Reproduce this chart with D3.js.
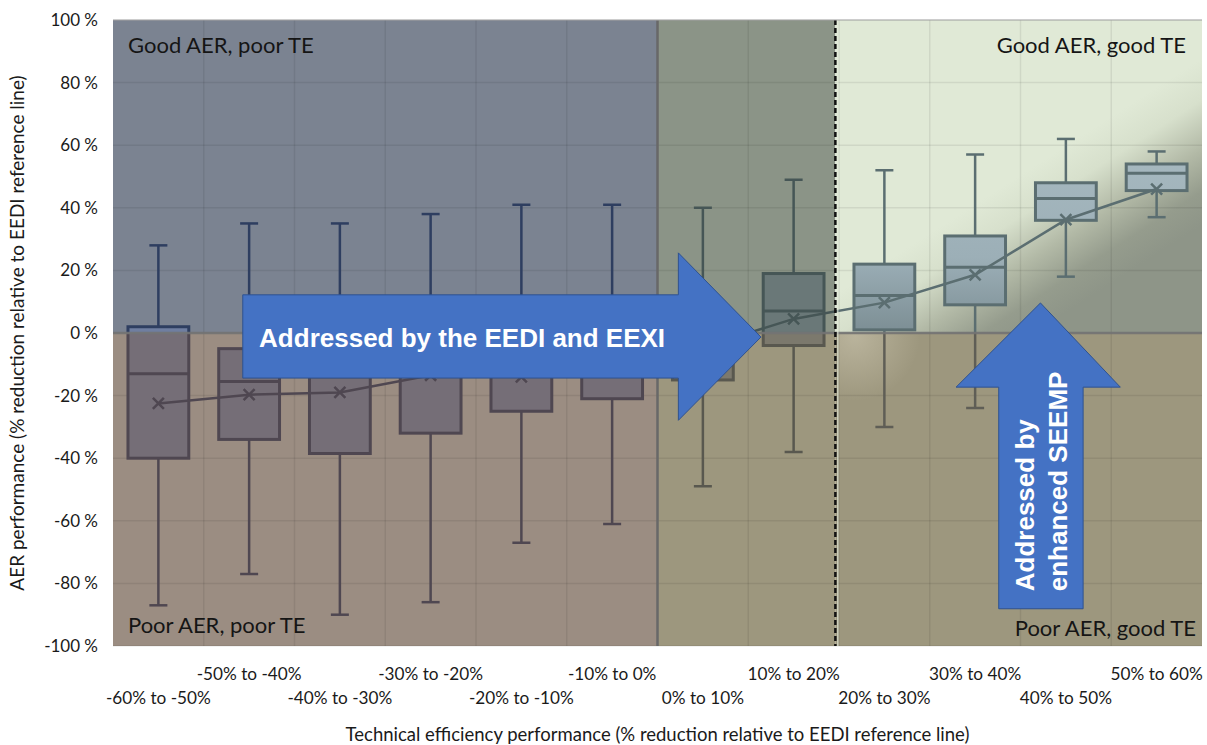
<!DOCTYPE html>
<html>
<head>
<meta charset="utf-8">
<script src="https://cdn.jsdelivr.net/npm/d3@7"></script>
<style>
  body { margin: 0; background: #ffffff; }
  svg { display: block; }
</style>
</head>
<body>
<svg id="chart" width="1207" height="745"></svg>
<script>
// Technical efficiency bins (% reduction relative to EEDI reference line)
const categories = ['-60% to -50%', '-50% to -40%', '-40% to -30%', '-30% to -20%',
  '-20% to -10%', '-10% to 0%', '0% to 10%', '10% to 20%', '20% to 30%',
  '30% to 40%', '40% to 50%', '50% to 60%'];

// AER performance distribution per bin (%)
const whiskerHigh = [28, 35, 35, 38, 41, 41, 40, 49, 52, 57, 62, 58];
const q3          = [2, -5, 4, 0, 2, 3, 5, 19, 22, 31, 48, 54];
const median      = [-13, -15.5, -14, -11, -12, -10, -3, 7, 12, 21, 43, 51];
const q1          = [-40, -34, -38.5, -32, -25, -21, -15, -4, 1, 9, 36, 45.5];
const whiskerLow  = [-87, -77, -90, -86, -67, -61, -49, -38, -30, -24, 18, 37];
const mean        = [-22.5, -19.7, -19, -13.5, -14, -10, -4.5, 4.5, 9.7, 18.6, 36.2, 46];

const yTicks = [100, 80, 60, 40, 20, 0, -20, -40, -60, -80, -100];

const svg = d3.select('#chart');
const plot = { left: 113, right: 1202, top: 20, bottom: 646 };

const x = d3.scaleBand().domain(categories).range([plot.left, plot.right]).padding(0);
const te = d3.scaleLinear().domain([-60, 60]).range([plot.left, plot.right]);
const y = d3.scaleLinear().domain([-100, 100]).range([plot.bottom, plot.top]);

const y0 = y(0);
const xZero = te(0);          // TE = 0 %
const xDash = te(19.6);       // required TE threshold (dashed)

const stats = categories.map((c, i) => ({
  cat: c, hi: whiskerHigh[i], q3: q3[i], med: median[i],
  q1: q1[i], lo: whiskerLow[i], mean: mean[i]
}));

const defs = svg.append('defs');

// background gradient of the "good AER, good TE" quadrant
const gg = defs.append('linearGradient').attr('id', 'greenGrad')
  .attr('gradientUnits', 'userSpaceOnUse')
  .attr('x1', 834).attr('y1', 295).attr('x2', 910).attr('y2', 413);
[[0, '#e0e9d6'], [0.25, '#d7e0cc'], [0.55, '#b2b9a6'], [0.8, '#959c8d'], [1, '#8e9588']]
  .forEach(([o, c]) => gg.append('stop').attr('offset', o).attr('stop-color', c));

const bg = defs.append('linearGradient').attr('id', 'boxGrad')
  .attr('gradientUnits', 'userSpaceOnUse')
  .attr('x1', 0).attr('y1', y(60)).attr('x2', 0).attr('y2', y(0));
[[0, '#a7b9c0'], [0.6, '#9cafb7'], [1, '#7c8e94']]
  .forEach(([o, c]) => bg.append('stop').attr('offset', o).attr('stop-color', c));

// soft highlight just below the zero line in the good-TE area
const hl = defs.append('radialGradient').attr('id', 'glow')
  .attr('gradientUnits', 'userSpaceOnUse')
  .attr('cx', 855).attr('cy', 336).attr('r', 65);
[[0, 'rgba(232,226,205,0.38)'], [1, 'rgba(232,226,205,0)']]
  .forEach(([o, c]) => hl.append('stop').attr('offset', o).attr('stop-color', c));

// quadrant regions
const regions = [
  { id: 'lu', x0: plot.left, x1: xZero, up: true,  bg: '#7b8391', stroke: '#2e3e60', fill: '#6f7ea0' },
  { id: 'll', x0: plot.left, x1: xZero, up: false, bg: '#9b8d82', stroke: '#4f4751', fill: '#756e77' },
  { id: 'mu', x0: xZero, x1: xDash, up: true,  bg: '#8b9487', stroke: '#465656', fill: '#6a7878' },
  { id: 'ml', x0: xZero, x1: xDash, up: false, bg: '#9d977e', stroke: '#59584f', fill: '#7c796d' },
  { id: 'ru', x0: xDash, x1: plot.right, up: true,  bg: 'url(#greenGrad)', stroke: '#5b6e71', fill: 'url(#boxGrad)' },
  { id: 'rl', x0: xDash, x1: plot.right, up: false, bg: '#9d977e', stroke: '#5f5e56', fill: '#8b8878' }
];

regions.forEach(r => {
  defs.append('clipPath').attr('id', 'cp-' + r.id)
    .append('rect')
    .attr('x', r.x0).attr('width', r.x1 - r.x0)
    .attr('y', r.up ? 0 : y0).attr('height', r.up ? y0 : 745 - y0);
});

// backgrounds
svg.append('g').selectAll('rect').data(regions).join('rect')
  .attr('x', r => r.x0).attr('width', r => r.x1 - r.x0)
  .attr('y', r => r.up ? plot.top : y0)
  .attr('height', r => r.up ? y0 - plot.top : plot.bottom - y0)
  .attr('fill', r => r.bg);
svg.append('rect').attr('x', xDash + 3).attr('y', y0)
  .attr('width', 100).attr('height', 80).attr('fill', 'url(#glow)');

// gridlines
const grid = svg.append('g').attr('stroke', 'rgba(0,0,0,0.075)').attr('stroke-width', 1.5);
grid.selectAll('line.h').data(yTicks).join('line').attr('class', 'h')
  .attr('x1', plot.left).attr('x2', plot.right)
  .attr('y1', d => y(d)).attr('y2', d => y(d));
grid.selectAll('line.v').data(categories.slice(1)).join('line').attr('class', 'v')
  .attr('x1', d => x(d)).attr('x2', d => x(d))
  .attr('y1', plot.top).attr('y2', plot.bottom);

// box plots, coloured per quadrant
const bw = x.bandwidth() * 0.67;
const cap = 18;
const cx = d => x(d.cat) + x.bandwidth() / 2;

function drawBoxes(g, r) {
  const s = r.stroke;
  const items = g.selectAll('g.box').data(stats).join('g').attr('class', 'box');
  items.append('line').attr('x1', cx).attr('x2', cx)
    .attr('y1', d => y(d.hi)).attr('y2', d => y(d.q3))
    .attr('stroke', s).attr('stroke-width', 2.5);
  items.append('line').attr('x1', cx).attr('x2', cx)
    .attr('y1', d => y(d.q1)).attr('y2', d => y(d.lo))
    .attr('stroke', s).attr('stroke-width', 2.5);
  items.append('line').attr('x1', d => cx(d) - cap / 2).attr('x2', d => cx(d) + cap / 2)
    .attr('y1', d => y(d.hi)).attr('y2', d => y(d.hi))
    .attr('stroke', s).attr('stroke-width', 2.5);
  items.append('line').attr('x1', d => cx(d) - cap / 2).attr('x2', d => cx(d) + cap / 2)
    .attr('y1', d => y(d.lo)).attr('y2', d => y(d.lo))
    .attr('stroke', s).attr('stroke-width', 2.5);
  items.append('rect')
    .attr('x', d => cx(d) - bw / 2).attr('width', bw)
    .attr('y', d => y(d.q3)).attr('height', d => y(d.q1) - y(d.q3))
    .attr('fill', r.fill).attr('stroke', s).attr('stroke-width', 3);
  items.append('line').attr('x1', d => cx(d) - bw / 2).attr('x2', d => cx(d) + bw / 2)
    .attr('y1', d => y(d.med)).attr('y2', d => y(d.med))
    .attr('stroke', s).attr('stroke-width', 3);

  // mean line with x markers
  g.append('path').datum(stats)
    .attr('d', d3.line().x(cx).y(d => y(d.mean)))
    .attr('fill', 'none').attr('stroke', s).attr('stroke-width', 2.5);
  const m = 5.5;
  g.selectAll('path.mk').data(stats).join('path').attr('class', 'mk')
    .attr('d', d => {
      const px = cx(d), py = y(d.mean);
      return `M${px - m},${py - m}L${px + m},${py + m}M${px - m},${py + m}L${px + m},${py - m}`;
    })
    .attr('stroke', s).attr('stroke-width', 2.5).attr('fill', 'none');
}

regions.forEach(r => {
  const g = svg.append('g').attr('clip-path', `url(#cp-${r.id})`);
  drawBoxes(g, r);
});

// quadrant borders
svg.append('line').attr('x1', plot.left).attr('x2', plot.right).attr('y1', y0).attr('y2', y0)
  .attr('stroke', '#737373').attr('stroke-opacity', 0.9).attr('stroke-width', 2.5);
svg.append('line').attr('x1', xZero).attr('x2', xZero).attr('y1', plot.top).attr('y2', plot.bottom)
  .attr('stroke', '#686868').attr('stroke-width', 2.5);
svg.append('line').attr('x1', xDash + 2.5).attr('x2', xDash + 2.5).attr('y1', plot.top).attr('y2', plot.bottom)
  .attr('stroke', '#e4ecdb').attr('stroke-width', 1);
svg.append('line').attr('x1', xDash).attr('x2', xDash).attr('y1', plot.top).attr('y2', plot.bottom)
  .attr('stroke', '#111').attr('stroke-width', 2.5).attr('stroke-dasharray', '5,3');
svg.append('line').attr('x1', plot.left).attr('x2', plot.right).attr('y1', plot.top).attr('y2', plot.top)
  .attr('stroke', '#a9a9a9').attr('stroke-width', 1);

// policy arrows (in data units: TE %, AER %)
const arrowH = [[-45.7, 12.2], [2.3, 12.2], [2.3, 25.6], [11.4, -1.3], [2.3, -27.9], [2.3, -14.4], [-45.7, -14.4]];
const arrowV = [[37.6, -88.1], [37.6, -17.3], [32.9, -17.3], [42.2, 9.6], [51.0, -17.3], [46.9, -17.3], [46.9, -88.1]];
const arrowLine = d3.line().x(d => te(d[0])).y(d => y(d[1])).curve(d3.curveLinearClosed);

svg.append('path').attr('d', arrowLine(arrowH))
  .attr('fill', '#4472c4').attr('stroke', '#2f528f').attr('stroke-width', 1);
svg.append('path').attr('d', arrowLine(arrowV))
  .attr('fill', '#4472c4').attr('stroke', '#2f528f').attr('stroke-width', 1);

const arrowFont = "'Liberation Sans', Arial, sans-serif";
svg.append('text').attr('x', te(-43.9)).attr('y', y(-4.5))
  .attr('font-family', arrowFont).attr('font-weight', 'bold').attr('font-size', 26)
  .attr('fill', '#ffffff').text('Addressed by the EEDI and EEXI');

const vt = svg.append('text')
  .attr('transform', `translate(${te(41.5)},${y(-82.5)}) rotate(-90)`)
  .attr('font-family', arrowFont).attr('font-weight', 'bold').attr('font-size', 26)
  .attr('fill', '#ffffff');
vt.append('tspan').attr('x', 0).attr('y', 0).text('Addressed by');
vt.append('tspan').attr('x', 0).attr('y', 33).text('enhanced SEEMP');

// quadrant captions
const capFont = "Lato, 'Open Sans', sans-serif";
const captions = [
  { t: 'Good AER, poor TE', x: plot.left + 15, y: plot.top + 33, a: 'start' },
  { t: 'Good AER, good TE', x: plot.right - 16, y: plot.top + 33, a: 'end' },
  { t: 'Poor AER, poor TE', x: plot.left + 15, y: plot.bottom - 13, a: 'start' },
  { t: 'Poor AER, good TE', x: plot.right - 6, y: plot.bottom - 10, a: 'end' }
];
svg.append('g').selectAll('text').data(captions).join('text')
  .attr('x', d => d.x).attr('y', d => d.y).attr('text-anchor', d => d.a)
  .attr('font-family', capFont).attr('font-size', 22).attr('fill', '#151515')
  .text(d => d.t);

// y axis
const yAxis = svg.append('g').attr('transform', `translate(${plot.left},0)`)
  .call(d3.axisLeft(y).tickValues(yTicks).tickFormat(d => d + ' %').tickSize(0).tickPadding(15));
yAxis.select('.domain').remove();
yAxis.selectAll('text').attr('font-family', capFont).attr('font-size', 17).attr('fill', '#1a1a1a');

// x axis with staggered labels
const xAxis = svg.append('g').attr('transform', `translate(0,${plot.bottom})`)
  .call(d3.axisBottom(x).tickSize(0));
xAxis.select('.domain').remove();
xAxis.selectAll('text')
  .attr('font-family', capFont).attr('font-size', 17.2).attr('fill', '#1a1a1a')
  .attr('y', (d, i) => i % 2 ? 22 : 46);

// axis titles
svg.append('text').attr('x', (plot.left + plot.right) / 2).attr('y', 741)
  .attr('text-anchor', 'middle').attr('font-family', capFont).attr('font-size', 18.5).attr('fill', '#1a1a1a')
  .text('Technical efficiency performance (% reduction relative to EEDI reference line)');
svg.append('text').attr('transform', `translate(24,${y0}) rotate(-90)`)
  .attr('text-anchor', 'middle').attr('font-family', capFont).attr('font-size', 19).attr('fill', '#1a1a1a')
  .text('AER performance (% reduction relative to EEDI reference line)');
</script>
</body>
</html>
